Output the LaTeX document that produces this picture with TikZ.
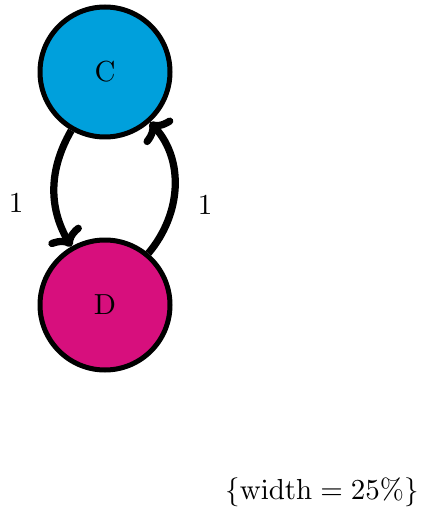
\documentclass[tikz,border=0pt]{standalone}
\usetikzlibrary{arrows.meta}
\definecolor{cfill}{RGB}{0,160,220}
\definecolor{dfill}{RGB}{215,15,125}
\begin{document}
\begin{tikzpicture}[x=0.345pt,y=-0.345pt,
  state/.style={circle,draw=black,line width=1.725pt,minimum size=44.85pt,inner sep=0pt},
  edge/.style={line width=2.5pt,-{To[length=5.5pt,width=13pt]}},
  lbl/.style={}]
\useasboundingbox (0,0) rectangle (420,512);
\node[state,fill=cfill] (C) at (105,72) {C};
\node[state,fill=dfill] (D) at (105,305) {D};
\draw[edge] (C) to[out=-120,in=120] (D);
\draw[edge] (D) to[out=50,in=-48] (C);
\node[lbl] (l1) at (16,203) {1};
\node[lbl] (l2) at (205,205) {1};
\node[lbl] (w) at (322,492) {$\{\mathrm{width}=25\%\}$};
\end{tikzpicture}
\end{document}
